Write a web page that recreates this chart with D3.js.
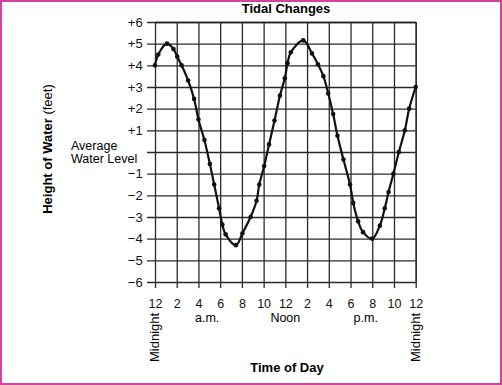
<!DOCTYPE html>
<html>
<head>
<meta charset="utf-8">
<script src="https://cdn.jsdelivr.net/npm/d3@7"></script>
<style>
  body { margin: 0; background: #fff; }
  svg { display: block; font-family: "Liberation Sans", Arial, sans-serif; }
</style>
</head>
<body>
<svg id="chart" width="502" height="385"></svg>
<script>
// hours after midnight and water height (feet)
var hours = [0, 0.3, 1.1, 1.7, 2.05, 2.45, 3.05, 3.6, 4.0, 4.55, 5.05, 5.45, 5.9, 6.2, 6.5, 7.45,
             8.05, 8.8, 9.35, 9.6, 10.05, 10.5, 11.0, 11.5, 11.95, 12.2, 12.5, 13.65, 14.45, 15.0, 15.5,
             15.95, 16.4, 16.8, 17.35, 17.95, 18.25, 18.7, 19.15, 20.0, 20.7, 21.15, 21.5, 21.95,
             22.45, 23.0, 23.4, 24.0];
var heights = [4.0, 4.5, 5.0, 4.75, 4.4, 4.0, 3.3, 2.45, 1.5, 0.55, -0.55, -1.5, -2.6, -3.35, -3.8, -4.3,
               -3.75, -3.0, -2.25, -1.5, -0.65, 0.35, 1.45, 2.6, 3.4, 4.1, 4.6, 5.15, 4.55, 4.05, 3.5,
               2.7, 1.75, 0.75, -0.35, -1.5, -2.35, -3.2, -3.7, -4.0, -3.4, -2.6, -1.85, -1.0,
               0.0, 1.0, 2.0, 3.0];

var yTicks = [-6, -5, -4, -3, -2, -1, 0, 1, 2, 3, 4, 5, 6];
var xTicks = [0, 2, 4, 6, 8, 10, 12, 14, 16, 18, 20, 22, 24];
var periodNames = ["a.m.", "Noon", "p.m."];
var periodHours = [4.8, 12, 19.4];

var svg = d3.select('#chart');

// plot box (note: "top" is taken by window.top, hence the prefixes)
var plotL = 155, plotR = 415.7, plotT = 22, plotB = 282;

var x = d3.scaleLinear().domain([0, 24]).range([plotL, plotR]);
var y = d3.scaleLinear().domain([-6, 6]).range([plotB, plotT]);

// pink frame round the whole picture
svg.append('rect')
    .attr('x', 1).attr('y', 1)
    .attr('width', 500).attr('height', 383)
    .attr('fill', 'none')
    .attr('stroke', '#d2439d')
    .attr('stroke-width', 2);

svg.append('text')
    .attr('x', 286).attr('y', 13)
    .attr('text-anchor', 'middle')
    .attr('font-size', 13).attr('font-weight', 'bold')
    .text('Tidal Changes');

// horizontal grid + y ticks (ticks run from the right edge out past the left edge)
var yAxis = d3.axisLeft(y)
    .tickValues(yTicks)
    .tickSizeInner(plotR - plotL + 8)
    .tickSizeOuter(0)
    .tickPadding(4.3)
    .tickFormat(function(d){
        if (d > 0) return '+' + d;
        if (d < 0) return '\u2212' + Math.abs(d);
        return '';
    });

var gy = svg.append('g')
    .attr('transform', 'translate(' + plotR + ',0)')
    .call(yAxis);

// vertical grid + x ticks
var xAxis = d3.axisBottom(x)
    .tickValues(xTicks)
    .tickSizeInner(plotB - plotT + 6)
    .tickSizeOuter(0)
    .tickPadding(11)
    .tickFormat(function(d){ return d % 12 === 0 ? 12 : d % 12; });

var gx = svg.append('g')
    .attr('transform', 'translate(0,' + plotT + ')')
    .call(xAxis);

[gx, gy].forEach(function(g){
    g.selectAll('.domain').attr('stroke', '#222').attr('stroke-width', 1.3);
    g.selectAll('.tick line').attr('stroke', '#2a2a2a').attr('stroke-width', 1.3);
    g.selectAll('.tick text')
        .attr('fill', '#111')
        .attr('font-family', '"Liberation Sans", Arial, sans-serif');
});
gx.selectAll('.tick text').attr('font-size', 12.5);
gy.selectAll('.tick text').attr('font-size', 13);

// a.m. / Noon / p.m.
svg.selectAll('text.period')
    .data(periodNames)
    .enter()
    .append('text')
    .attr('class', 'period')
    .attr('x', function(d, i){ return x(periodHours[i]); })
    .attr('y', 321.5)
    .attr('text-anchor', 'middle')
    .attr('font-size', 12.5)
    .text(function(d){ return d; });

// Midnight at both ends, written upward
[0, 24].forEach(function(h){
    var px = x(h) + 4;
    svg.append('text')
        .attr('transform', 'translate(' + px + ',362) rotate(-90)')
        .attr('font-size', 13)
        .text('Midnight');
});

svg.append('text')
    .attr('x', 287).attr('y', 372)
    .attr('text-anchor', 'middle')
    .attr('font-size', 13).attr('font-weight', 'bold')
    .text('Time of Day');

var ylab = svg.append('text')
    .attr('transform', 'translate(51.7,149) rotate(-90)')
    .attr('text-anchor', 'middle')
    .attr('font-size', 13);
ylab.append('tspan').attr('font-weight', 'bold').text('Height of Water ');
ylab.append('tspan').text('(feet)');

var avg = svg.append('text').attr('font-size', 12.5);
avg.append('tspan').attr('x', 71).attr('y', 150).text('Average');
avg.append('tspan').attr('x', 71).attr('y', 162.5).text('Water Level');

// the tide curve
var pts = hours.map(function(h, i){ return [h, heights[i]]; });

var line = d3.line()
    .x(function(d){ return x(d[0]); })
    .y(function(d){ return y(d[1]); })
    .curve(d3.curveCatmullRom.alpha(0.5));

svg.append('path')
    .datum(pts)
    .attr('d', line)
    .attr('fill', 'none')
    .attr('stroke', '#111')
    .attr('stroke-width', 2.2);

svg.selectAll('circle.pt')
    .data(pts)
    .enter()
    .append('circle')
    .attr('class', 'pt')
    .attr('cx', function(d){ return x(d[0]); })
    .attr('cy', function(d){ return y(d[1]); })
    .attr('r', 2.3)
    .attr('fill', '#111');
</script>
</body>
</html>
